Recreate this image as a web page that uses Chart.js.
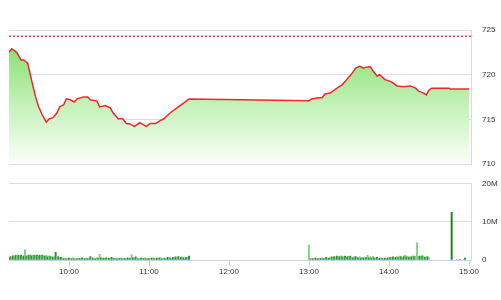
<!DOCTYPE html>
<html><head><meta charset="utf-8">
<script src="https://cdn.jsdelivr.net/npm/chart.js@4"></script>
<style>
html,body{margin:0;padding:0;background:#fff;}
#w{position:relative;width:501px;height:300px;overflow:hidden;}
#c1{position:absolute;left:0;top:0;width:501px;height:180px;}
#c2{position:absolute;left:0;top:168px;width:501px;height:132px;}
</style></head>
<body><div id="w"><canvas id="c1" width="501" height="180"></canvas><canvas id="c2" width="501" height="132"></canvas></div>
<script>
// ---- data ----
const priceTimes = ["09:15","09:17","09:19","09:21","09:24","09:26","09:29","09:31","09:33","09:35","09:37","09:40","09:43","09:45","09:48","09:51","09:53","09:56","09:58","10:01","10:04","10:06","10:11","10:14","10:16","10:21","10:23","10:27","10:31","10:33","10:37","10:40","10:43","10:46","10:49","10:53","10:56","10:58","11:01","11:05","11:08","11:11","11:16","11:21","11:25","11:27","11:30","13:00","13:02","13:06","13:10","13:12","13:16","13:21","13:25","13:28","13:32","13:35","13:38","13:41","13:43","13:46","13:48","13:51","13:53","13:57","14:02","14:06","14:11","14:16","14:20","14:22","14:26","14:28","14:30","14:32","14:45","14:46","15:00"];
const priceValues = [722.5,722.9,722.7,722.45,721.65,721.65,721.3,720.0,718.7,717.5,716.5,715.5,714.7,715.05,715.2,715.75,716.4,716.65,717.3,717.2,716.95,717.3,717.5,717.5,717.2,717.05,716.4,716.55,716.3,715.75,715.05,715.1,714.55,714.5,714.2,714.65,714.4,714.2,714.55,714.55,714.85,715.05,715.75,716.3,716.75,716.95,717.3,717.1,717.3,717.4,717.45,717.85,717.95,718.5,718.9,719.4,720.1,720.75,720.95,720.75,720.85,720.9,720.45,719.85,720.0,719.45,719.2,718.75,718.65,718.75,718.5,718.2,717.95,717.75,718.3,718.5,718.5,718.4,718.4];
const referencePrice = 724.3;

// volume, millions, one value per minute
const volMorningStart = "09:15";
const volMorning = [0.6,0.9,0.7,1.1,0.8,1.2,0.9,1.3,1.0,1.2,0.8,1.1,
 2.7,
 1.0,1.3,1.2,1.4,1.1,1.3,1.2,1.0,1.3,1.1,1.2,0.9,1.3,1.1,1.0,1.2,0.8,1.1,0.9,1.0,0.7,0.9,2.0,
 1.0,0.8,0.6,0.7,0.5,0.4,0.5,0.3,0.4,0.5,0.3,0.4,0.6,0.3,0.4,0.3,0.5,0.4,0.3,0.6,0.4,0.3,0.5,0.4,
 0.5,0.9,0.7,0.4,0.5,0.3,0.6,0.5,1.5,0.6,0.4,0.5,0.3,0.6,0.4,0.5,0.4,0.7,0.5,0.4,
 0.6,0.3,0.5,0.4,0.6,0.3,0.5,0.4,0.3,0.6,0.4,0.5,1.4,0.6,0.4,0.8,0.5,0.3,0.4,0.5,
 0.3,0.4,0.6,0.3,0.5,0.4,0.3,0.5,0.6,0.4,0.3,0.5,0.4,0.6,0.5,0.3,0.6,0.4,0.5,0.7,
 0.5,0.6,0.4,0.7,0.5,0.8,0.6,0.9,0.5,0.7,0.8,0.6,0.5,0.7,0.6,1.0];
const volAfternoonStart = "13:00";
const volAfternoon = [3.9,
 0.3,0.4,0.3,0.4,0.5,0.3,0.4,0.5,0.4,0.6,0.4,0.5,0.7,0.4,0.5,
 0.6,0.8,0.7,0.9,0.6,1.0,0.8,0.9,1.1,0.8,0.9,1.0,0.7,0.9,0.8,1.0,0.7,0.6,0.8,0.9,0.7,0.6,0.8,0.5,0.7,0.6,0.5,0.7,1.2,0.6,
 0.8,0.5,0.9,0.6,0.5,0.7,0.4,0.5,0.6,0.4,0.3,0.5,0.4,0.6,0.5,0.7,0.6,0.8,0.5,0.7,
 0.9,0.7,1.0,0.8,0.6,0.9,1.2,0.8,1.0,0.7,0.9,0.8,1.1,0.9,1.0,4.5,
 0.9,1.0,0.8,1.1,0.9,0.7,0.9,0.8,0.6];
const volCloseTimes = ["14:47","14:51","14:53","14:56","14:57"];
const volCloseValues = [12.5,0.2,0.2,0.2,0.5];

const xTickLabels = ["10:00","11:00","12:00","13:00","14:00","15:00"];
const priceTicks = [710,715,720,725];
const volTicks = [0,10,20];

// ---- helpers ----
const DAY_START = "09:15";
function toMin(s){const [h,m]=s.split(':').map(Number);const [h0,m0]=DAY_START.split(':').map(Number);return (h*60+m)-(h0*60+m0);}
function fromMin(v){const t=v+9*60+15;const h=Math.floor(t/60),m=t%60;return String(h).padStart(2,'0')+':'+String(m).padStart(2,'0');}
const X_MAX = 346.5;
const FONT = {family:'"Liberation Sans", Arial, sans-serif', size:8};
const TXT = '#333';

const pricePts = priceTimes.map((t,i)=>({x:toMin(t),y:priceValues[i]}));
const volPts = [];
volMorning.forEach((v,i)=>volPts.push({x:toMin(volMorningStart)+i,y:v*1e6}));
volAfternoon.forEach((v,i)=>volPts.push({x:toMin(volAfternoonStart)+i,y:v*1e6}));
volCloseTimes.forEach((t,i)=>volPts.push({x:toMin(t),y:volCloseValues[i]*1e6}));

Chart.defaults.font.family = FONT.family;

new Chart(document.getElementById('c1'),{
  type:'line',
  data:{datasets:[
    {data:pricePts,borderColor:'#f2262b',borderWidth:1.5,pointRadius:0,tension:0,fill:'start',
     backgroundColor:(ctx)=>{const a=ctx.chart.chartArea;if(!a)return 'rgba(150,230,130,0.5)';
       const g=ctx.chart.ctx.createLinearGradient(0,a.top+15,0,a.bottom);
       g.addColorStop(0,'rgb(135,224,112)');g.addColorStop(0.5,'rgb(196,241,184)');g.addColorStop(1,'rgb(250,255,249)');return g;}},
    {data:[{x:0,y:referencePrice},{x:X_MAX,y:referencePrice}],borderColor:'#f23a3a',borderWidth:1.5,borderDash:[2,2],pointRadius:0,fill:false}
  ]},
  options:{responsive:false,animation:false,
    layout:{padding:{left:9,top:30,bottom:12,right:0}},
    plugins:{legend:{display:false},tooltip:{enabled:false}},
    scales:{
      x:{type:'linear',min:0,max:X_MAX,display:false},
      y:{position:'right',min:710,max:725,
         afterBuildTicks:(s)=>{s.ticks=priceTicks.map(v=>({value:v}));},
         ticks:{padding:11,font:FONT,color:TXT},
         grid:{color:'#dedede',drawTicks:false},
         border:{display:true,color:'#d3dce6'},
         afterFit:(s)=>{s.width=30;}}
    }
  }
});

new Chart(document.getElementById('c2'),{
  type:'bar',
  data:{datasets:[{data:volPts,barThickness:1.3,borderWidth:0,
    backgroundColor:(ctx)=>{const v=ctx.raw?ctx.raw.y:0;if(v>10e6)return '#128a12';if(v>3e6)return '#86d486';return ctx.dataIndex%2?'#2f922f':'#7fcf7f';}}]},
  options:{responsive:false,animation:false,
    layout:{padding:{left:9,top:11,bottom:0,right:0}},
    plugins:{legend:{display:false},tooltip:{enabled:false}},
    scales:{
      x:{type:'linear',min:0,max:X_MAX,offset:false,
         afterBuildTicks:(s)=>{s.ticks=xTickLabels.map(l=>({value:toMin(l)}));},
         ticks:{autoSkip:false,maxRotation:0,padding:1,font:FONT,color:TXT,callback:(v)=>fromMin(v)},
         grid:{offset:false,drawOnChartArea:false,drawTicks:true,tickLength:6,color:'#c6d4e4'},
         border:{display:true,color:'#c6d4e4'},
         afterFit:(s)=>{s.height=40;}},
      y:{position:'right',min:0,max:20e6,
         afterBuildTicks:(s)=>{s.ticks=volTicks.map(v=>({value:v*1e6}));},
         ticks:{padding:11,font:FONT,color:TXT,callback:(v)=>v===0?'0':(v/1e6)+'M'},
         grid:{color:'#dedede',drawTicks:false},
         border:{display:true,color:'#d3dce6'},
         afterFit:(s)=>{s.width=30;}}
    }
  }
});
</script>
</body></html>
